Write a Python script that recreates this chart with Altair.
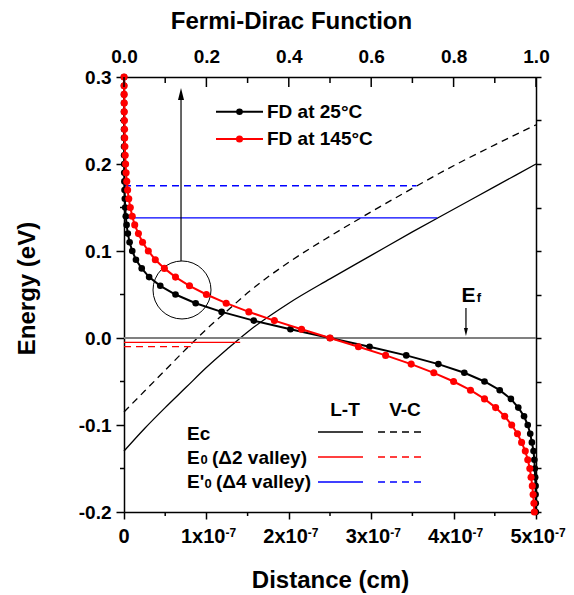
import altair as alt
import pandas as pd

# ---------------- data ----------------
energy = [0.30, 0.29, 0.28, 0.27, 0.26, 0.25, 0.24, 0.23, 0.22, 0.21,
          0.20, 0.19, 0.18, 0.17, 0.16, 0.15, 0.14, 0.13, 0.12, 0.11,
          0.10, 0.09, 0.08, 0.07, 0.06, 0.05, 0.04, 0.03, 0.02, 0.01,
          0.00, -0.01, -0.02, -0.03, -0.04, -0.05, -0.06, -0.07, -0.08, -0.09,
          -0.10, -0.11, -0.12, -0.13, -0.14, -0.15, -0.16, -0.17, -0.18, -0.19, -0.20]
fd_25c = [0.000, 0.000, 0.000, 0.000, 0.000, 0.0001, 0.0001, 0.0001, 0.0002, 0.0003,
          0.0004, 0.0006, 0.0009, 0.0013, 0.002, 0.003, 0.0043, 0.0063, 0.0093, 0.0136,
          0.020, 0.029, 0.043, 0.061, 0.088, 0.125, 0.174, 0.237, 0.315, 0.404,
          0.500, 0.596, 0.685, 0.763, 0.826, 0.875, 0.912, 0.939, 0.957, 0.971,
          0.980, 0.986, 0.990, 0.994, 0.996, 0.997, 0.998, 0.999, 0.999, 0.9994, 0.9996]
fd_145c = [0.0002, 0.0003, 0.0004, 0.0006, 0.0007, 0.001, 0.0013, 0.0017, 0.0022, 0.0029,
           0.0039, 0.0051, 0.0067, 0.0088, 0.0116, 0.0153, 0.020, 0.026, 0.035, 0.045,
           0.059, 0.076, 0.098, 0.125, 0.159, 0.200, 0.248, 0.303, 0.365, 0.431,
           0.500, 0.569, 0.635, 0.697, 0.752, 0.800, 0.841, 0.875, 0.902, 0.924,
           0.941, 0.955, 0.965, 0.974, 0.980, 0.985, 0.988, 0.991, 0.993, 0.995, 0.996]

ec_dist = [0.0, 0.25e-7, 0.5e-7, 0.75e-7, 1.0e-7, 1.25e-7, 1.5e-7, 2.0e-7,
           2.5e-7, 3.0e-7, 3.5e-7, 4.0e-7, 4.5e-7, 5.0e-7]
ec_lt = [-0.130, -0.104, -0.080, -0.057, -0.034, -0.013, 0.007, 0.040,
         0.068, 0.095, 0.122, 0.148, 0.174, 0.200]
ec_vc = [-0.085, -0.061, -0.037, -0.013, 0.010, 0.031, 0.052, 0.087,
         0.117, 0.145, 0.172, 0.198, 0.222, 0.245]

level_names = ["E0 L-T", "E0 V-C", "E'0 L-T", "E'0 V-C"]
level_energy = [-0.005, -0.010, 0.138, 0.175]
level_start = [0.0, 0.0, 0.0, 0.0]
level_end = [1.41e-7, 0.81e-7, 3.80e-7, 3.55e-7]
fermi_level = [0.0]

dist_ticks = [0.0, 1e-7, 2e-7, 3e-7, 4e-7, 5e-7]
dist_tick_main = ["0", "1x10", "2x10", "3x10", "4x10", "5x10"]
dist_tick_exp = ["", "-7", "-7", "-7", "-7", "-7"]
dist_minor = [0.5e-7, 1.5e-7, 2.5e-7, 3.5e-7, 4.5e-7]
fd_ticks = [0.0, 0.2, 0.4, 0.6, 0.8, 1.0]
fd_minor = [0.1, 0.3, 0.5, 0.7, 0.9]
e_ticks = [-0.2, -0.1, 0.0, 0.1, 0.2, 0.3]
e_minor = [-0.15, -0.05, 0.05, 0.15, 0.25]

# ---------------- styling ----------------
FONT = "Liberation Sans"
W, H = 412, 435
RED, BLUE = "#ff0000", "#0000ff"
DASH = [7, 5]

xs_d = alt.Scale(domain=[0, 5e-7], nice=False, zero=False)
xs_f = alt.Scale(domain=[0, 1], nice=False, zero=False)
ys = alt.Scale(domain=[-0.2, 0.3], nice=False, zero=False)

common = dict(domainColor="black", domainWidth=1.5, tickColor="black", tickWidth=1.5,
              labelFont=FONT, labelFontSize=19, labelFontWeight="bold", labelColor="black",
              titleFont=FONT, titleFontSize=24, titleFontWeight="bold", titleColor="black",
              grid=False, labelOverlap=False, labelFlush=False)

axis_bottom = alt.Axis(orient="bottom", values=dist_ticks, labels=False, tickSize=7,
                       title="Distance (cm)", titleBaseline="alphabetic", titleAlign="center",
                       titleX=206, titleY=75, **common)
axis_left = alt.Axis(orient="left", values=e_ticks,
                     labelExpr="(datum.value < -1e-9 ? '-' : '') + format(abs(datum.value), '.1f')",
                     tickSize=8, labelPadding=5,
                     title="Energy (eV)", titleAngle=270, titleBaseline="alphabetic",
                     titleAlign="center", titleX=-90, titleY=211, **common)
axis_top = alt.Axis(orient="top", values=fd_ticks, format=".1f", ticks=False, tickSize=0,
                    labelBaseline="alphabetic", labelPadding=15,
                    title="Fermi-Dirac Function", titleBaseline="alphabetic", titleAlign="center",
                    titleX=167, titleY=-49, **common)
axis_right = alt.Axis(orient="right", values=e_ticks + e_minor, labels=False, tickSize=5,
                      title=None, **common)

XD = lambda f: alt.X(f, type="quantitative", scale=xs_d, axis=axis_bottom)
YL = lambda f: alt.Y(f, type="quantitative", scale=ys, axis=axis_left)
XF = lambda f: alt.X(f, type="quantitative", scale=xs_f, axis=axis_top)
YR = lambda f: alt.Y(f, type="quantitative", scale=ys, axis=axis_right)

# ---------------- distance-based layers ----------------
ec_df = pd.DataFrame({"d": ec_dist, "lt": ec_lt, "vc": ec_vc})
ec_solid = alt.Chart(ec_df).mark_line(color="black", strokeWidth=1.3, interpolate="monotone").encode(
    x=XD("d"), y=YL("lt"), order="d:Q")
ec_dash = alt.Chart(ec_df).mark_line(color="black", strokeWidth=1.3, strokeDash=DASH,
                                     interpolate="monotone").encode(x=XD("d"), y=YL("vc"), order="d:Q")

lv_df = pd.DataFrame({"name": level_names, "e": level_energy, "d0": level_start, "d1": level_end})
def level(name, color, dash=None):
    kw = dict(color=color, strokeWidth=1.3)
    if dash:
        kw["strokeDash"] = dash
    return alt.Chart(lv_df).transform_filter(alt.datum.name == name).mark_rule(**kw).encode(
        x=XD("d0"), x2="d1", y=YL("e"))

ef_line = alt.Chart(pd.DataFrame({"e": fermi_level})).mark_rule(color="#808080", strokeWidth=2).encode(
    x=alt.value(0), x2=alt.value(W), y=YL("e"))

minor_bottom = alt.Chart(pd.DataFrame({"d": dist_minor})).mark_rule(color="black", strokeWidth=1.5).encode(
    x=XD("d"), y=alt.value(H), y2=alt.value(H + 4))
minor_left = alt.Chart(pd.DataFrame({"e": e_minor})).mark_rule(color="black", strokeWidth=1.5).encode(
    y=YL("e"), x=alt.value(0), x2=alt.value(-4))

# bottom tick labels "n x 10^-7" drawn through the distance scale
tick_df = pd.DataFrame({"d": dist_ticks, "m": dist_tick_main, "x": dist_tick_exp})
lbl_zero = alt.Chart(tick_df).transform_filter("datum.d < 1e-9").mark_text(
    align="center", baseline="alphabetic", font=FONT, fontSize=20, fontWeight="bold", color="black").encode(
    x=XD("d"), y=alt.value(H + 31), text="m:N")
lbl_main = alt.Chart(tick_df).transform_filter("datum.d > 1e-9").mark_text(
    align="right", baseline="alphabetic", dx=19, font=FONT, fontSize=20, fontWeight="bold",
    color="black").encode(x=XD("d"), y=alt.value(H + 31), text="m:N")
lbl_exp = alt.Chart(tick_df).transform_filter("datum.d > 1e-9").mark_text(
    align="left", baseline="alphabetic", dx=19, font=FONT, fontSize=12, fontWeight="bold",
    color="black").encode(x=XD("d"), y=alt.value(H + 25), text="x:N")

# annotations (in data coordinates)
circ = alt.Chart(pd.DataFrame({"d": [0.704e-7], "e": [0.0552]})).mark_point(
    shape="circle", size=3364, filled=False, color="black", strokeWidth=1, opacity=1).encode(
    x=XD("d"), y=YL("e"))
arrow_up = alt.Chart(pd.DataFrame({"d": [0.692e-7], "e": [0.0885], "e2": [0.282]})).mark_rule(
    color="black", strokeWidth=1.2).encode(x=XD("d"), y=YL("e"), y2="e2")
arrow_up_head = alt.Chart(pd.DataFrame({"d": [0.692e-7], "e": [0.2805]})).mark_point(
    shape="M0,-1L-0.5,1L0.5,1Z", size=144, filled=True, color="black", opacity=1).encode(
    x=XD("d"), y=YL("e"))
arrow_ef = alt.Chart(pd.DataFrame({"d": [4.15e-7], "e": [0.0345], "e2": [0.0092]})).mark_rule(
    color="black", strokeWidth=1.2).encode(x=XD("d"), y=YL("e"), y2="e2")
arrow_ef_head = alt.Chart(pd.DataFrame({"d": [4.15e-7], "e": [0.0069]})).mark_point(
    shape="M0,1L-0.5,-1L0.5,-1Z", size=64, filled=True, color="black", opacity=1).encode(
    x=XD("d"), y=YL("e"))
ef_E = alt.Chart(pd.DataFrame({"d": [4.095e-7], "e": [0.0414], "t": ["E"]})).mark_text(
    align="left", baseline="alphabetic", font=FONT, fontSize=21, fontWeight="bold", color="black").encode(
    x=XD("d"), y=YL("e"), text="t:N")
ef_f = alt.Chart(pd.DataFrame({"d": [4.28e-7], "e": [0.0414], "t": ["f"]})).mark_text(
    align="left", baseline="alphabetic", font=FONT, fontSize=13, fontWeight="bold", color="black").encode(
    x=XD("d"), y=YL("e"), text="t:N")

dist_layer = alt.layer(ec_solid, ec_dash,
                       ef_line,
                       level("E0 L-T", RED), level("E0 V-C", RED, DASH),
                       level("E'0 L-T", BLUE), level("E'0 V-C", BLUE, DASH),
                       minor_bottom, minor_left, lbl_zero, lbl_main, lbl_exp,
                       circ, arrow_up, arrow_up_head, arrow_ef, arrow_ef_head, ef_E, ef_f)

# ---------------- Fermi-Dirac layers ----------------
fd_df = pd.DataFrame({"e": energy, "f25": fd_25c, "f145": fd_145c})
fd25_line = alt.Chart(fd_df).mark_line(color="black", strokeWidth=2).encode(
    x=XF("f25"), y=YR("e"), order=alt.Order("e:Q", sort="descending"))
fd25_pts = alt.Chart(fd_df).mark_circle(color="black", size=44, opacity=1).encode(x=XF("f25"), y=YR("e"))
fd145_line = alt.Chart(fd_df).mark_line(color=RED, strokeWidth=2).encode(
    x=XF("f145"), y=YR("e"), order=alt.Order("e:Q", sort="descending"))
fd145_pts = alt.Chart(fd_df).mark_circle(color=RED, size=50, opacity=1).encode(x=XF("f145"), y=YR("e"))
top_major = alt.Chart(pd.DataFrame({"f": fd_ticks})).mark_rule(color="black", strokeWidth=1.5).encode(
    x=XF("f"), y=alt.value(0), y2=alt.value(10))
top_minor = alt.Chart(pd.DataFrame({"f": fd_minor})).mark_rule(color="black", strokeWidth=1.5).encode(
    x=XF("f"), y=alt.value(0), y2=alt.value(6))

fd_layer = alt.layer(fd25_line, fd25_pts, fd145_line, fd145_pts, top_major, top_minor)

# ---------------- legends (pixel placement) ----------------
one = pd.DataFrame({"k": [0]})

def seg(x1, x2, y, color, dash=None, width=1.3):
    kw = dict(color=color, strokeWidth=width)
    if dash:
        kw["strokeDash"] = dash
    return alt.Chart(one).mark_rule(**kw).encode(x=alt.value(x1), x2=alt.value(x2), y=alt.value(y))

def label(x, y, text, align="left", size=19, baseline="alphabetic"):
    return alt.Chart(one).mark_text(align=align, baseline=baseline, text=text, font=FONT,
                                    fontSize=size, fontWeight="bold", color="black").encode(
        x=alt.value(x), y=alt.value(y))

def dot(x, y, color, size):
    return alt.Chart(one).mark_circle(color=color, size=size, opacity=1).encode(x=alt.value(x), y=alt.value(y))

legend_layer = alt.layer(
    seg(92, 139, 34.7, "black", width=2), dot(115.5, 34.7, "black", 44),
    label(143, 34.7, "FD at 25°C", baseline="middle"),
    seg(92, 139, 62, RED, width=2), dot(115.5, 62, RED, 50),
    label(143, 62, "FD at 145°C", baseline="middle"),
    label(221, 339, "L-T", align="center"), label(281, 339, "V-C", align="center"),
    label(63, 363, "Ec"), seg(194, 239, 355, "black"), seg(254, 299, 355, "black", DASH),
    label(63, 387, "E"), label(76.5, 387, "0", size=13), label(88, 387, "(\u03942 valley)"),
    seg(194, 239, 380, RED), seg(254, 299, 380, RED, DASH),
    label(63, 411, "E'"), label(80.5, 411, "0", size=13), label(92, 411, "(\u03944 valley)"),
    seg(194, 239, 405, BLUE), seg(254, 299, 405, BLUE, DASH),
)

chart = alt.layer(dist_layer, fd_layer, legend_layer).resolve_scale(
    x="independent").resolve_axis(x="independent", y="independent").properties(
    width=W, height=H,
    autosize=alt.AutoSizeParams(type="none"),
    padding={"left": 116, "top": 69, "right": 30, "bottom": 82},
).configure_view(stroke=None).configure(font=FONT)

chart.save("out.html", embed_options={"renderer": "svg", "actions": False})
